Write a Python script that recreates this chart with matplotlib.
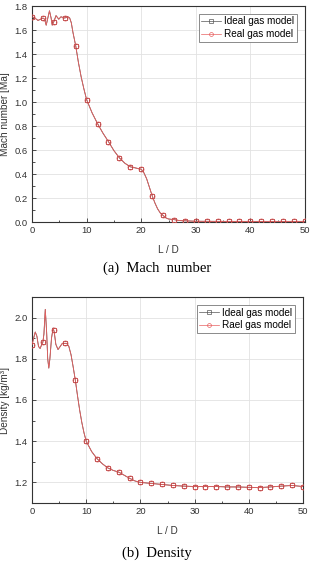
import matplotlib
matplotlib.use("Agg")
import matplotlib.pyplot as plt
from matplotlib.ticker import MultipleLocator, FormatStrFormatter

plt.rcParams['font.family'] = ['Liberation Sans', 'DejaVu Sans']

# ---- data ----
ld_markers = list(range(0, 51, 2))

mach_ideal = [1.71, 1.70, 1.67, 1.70, 1.47, 1.02, 0.82, 0.67, 0.535, 0.46, 0.44,
              0.22, 0.055, 0.02, 0.01, 0.006, 0.005, 0.005, 0.005, 0.005, 0.005,
              0.005, 0.005, 0.005, 0.005, 0.005]
mach_real = mach_ideal

# dense curve
mach_line_x = [0, 0.5, 1.1, 1.6, 2.0, 2.3, 2.6, 2.9, 3.2, 3.5, 3.7, 4.0, 4.4, 4.9,
               5.3, 6.0, 6.6, 6.9, 7.2, 7.5, 8.0, 8.5, 9.0, 9.5, 10, 11, 12, 13,
               14, 15, 16, 17, 18, 19, 20, 20.5, 21, 21.5, 22, 22.5, 23, 23.5,
               24, 24.5, 25, 26, 27, 28, 30, 35, 40, 45, 50]
mach_line_y = [1.71, 1.70, 1.68, 1.69, 1.70, 1.69, 1.64, 1.70, 1.76, 1.70, 1.64,
               1.67, 1.72, 1.69, 1.71, 1.70, 1.71, 1.70, 1.66, 1.58, 1.47, 1.33,
               1.21, 1.11, 1.02, 0.91, 0.82, 0.74, 0.67, 0.595, 0.535, 0.49, 0.46,
               0.45, 0.44, 0.41, 0.36, 0.29, 0.22, 0.16, 0.11, 0.075, 0.055,
               0.035, 0.025, 0.02, 0.012, 0.01, 0.006, 0.005, 0.005, 0.005, 0.005]

dens_ideal = [1.868, 1.88, 1.94, 1.875, 1.695, 1.40, 1.315, 1.27, 1.25, 1.22, 1.20,
              1.195, 1.19, 1.185, 1.182, 1.18, 1.18, 1.18, 1.178, 1.178, 1.176,
              1.175, 1.178, 1.182, 1.185, 1.18]
dens_real = dens_ideal

dens_line_x = [0, 0.3, 0.6, 0.9, 1.2, 1.5, 1.8, 2.0, 2.2, 2.45, 2.7, 2.9, 3.1,
               3.3, 3.6, 3.9, 4.1, 4.4, 4.8, 5.2, 5.6, 6.0, 6.4, 6.8, 7.2, 7.6,
               8.0, 8.4, 8.8, 9.2, 9.6, 10, 11, 12, 13, 14, 15, 16, 17, 18, 19,
               20, 22, 24, 26, 28, 30, 32, 34, 36, 38, 40, 42, 44, 46, 48, 50]
dens_line_y = [1.868, 1.90, 1.93, 1.91, 1.86, 1.85, 1.87, 1.88, 1.92, 2.04, 1.93,
               1.80, 1.755, 1.80, 1.90, 1.95, 1.93, 1.87, 1.845, 1.86, 1.875,
               1.875, 1.875, 1.86, 1.82, 1.76, 1.695, 1.62, 1.55, 1.49, 1.44,
               1.40, 1.35, 1.315, 1.29, 1.27, 1.258, 1.25, 1.235, 1.22, 1.207,
               1.20, 1.195, 1.19, 1.185, 1.182, 1.18, 1.18, 1.18, 1.178, 1.178,
               1.176, 1.175, 1.178, 1.182, 1.185, 1.18]

legend_a = ["Ideal gas model", "Real gas model"]
legend_b = ["Ideal gas model", "Rael gas model"]

W, H = 331, 564
fig = plt.figure(figsize=(W / 100, H / 100), dpi=100)

def box(l, t, r, b):
    return [l / W, 1 - b / H, (r - l) / W, (b - t) / H]

ax1 = fig.add_axes(box(32, 6, 305, 222))
ax2 = fig.add_axes(box(32, 297, 303, 503))

gray = "#555555"
red = "#e86060"

def draw(ax, lx, ly, yi, yr, labels):
    ax.plot(lx, ly, color=gray, lw=0.6, zorder=2)
    ax.plot(lx, ly, color=red, lw=0.6, zorder=3)
    ax.plot(ld_markers, yi, ls='none', marker='s', ms=3.4, mfc='none',
            mec='#7a2a2a', mew=0.6, zorder=4)
    ax.plot(ld_markers, yr, ls='none', marker='o', ms=3.6, mfc='none',
            mec=red, mew=0.6, zorder=5)
    h1, = ax.plot([], [], color=gray, lw=0.5, marker='s', ms=2.6, mfc='none',
                  mec=gray, mew=0.5)
    h2, = ax.plot([], [], color=red, lw=0.5, marker='o', ms=2.8, mfc='none',
                  mec=red, mew=0.5)
    leg = ax.legend([h1, h2], labels, loc='upper right', fontsize=7.2,
                    fancybox=False, framealpha=1, edgecolor='#777777',
                    handlelength=2.0, borderpad=0.25, labelspacing=0.25,
                    handletextpad=0.3, borderaxespad=0.8)
    leg.get_frame().set_linewidth(0.6)
    ax.set_xlim(0, 50)
    ax.xaxis.set_major_locator(MultipleLocator(10))
    ax.xaxis.set_minor_locator(MultipleLocator(5))
    ax.grid(True, which='major', color='#e2e2e2', lw=0.6)
    ax.set_axisbelow(True)
    ax.tick_params(which='both', direction='in', labelsize=6.8, width=0.6,
                   top=False, right=False, pad=3, colors='#333333')
    ax.tick_params(which='major', length=3)
    ax.tick_params(which='minor', length=1.8)
    for s in ax.spines.values():
        s.set_linewidth(0.8)
        s.set_color('#333333')
    ax.set_xlabel("L / D", fontsize=7.2, labelpad=7, color='#333333')

draw(ax1, mach_line_x, mach_line_y, mach_ideal, mach_real, legend_a)
ax1.set_ylim(0, 1.8)
ax1.yaxis.set_major_locator(MultipleLocator(0.2))
ax1.yaxis.set_minor_locator(MultipleLocator(0.1))
ax1.yaxis.set_major_formatter(FormatStrFormatter('%.1f'))
ax1.set_ylabel("Mach number [Ma]", fontsize=7.2, labelpad=3, color='#333333')

draw(ax2, dens_line_x, dens_line_y, dens_ideal, dens_real, legend_b)
ax2.set_ylim(1.1, 2.1)
ax2.yaxis.set_major_locator(MultipleLocator(0.2))
ax2.yaxis.set_minor_locator(MultipleLocator(0.1))
ax2.yaxis.set_major_formatter(FormatStrFormatter('%.1f'))
ax2.set_ylabel("Density [kg/m³]", fontsize=7.2, labelpad=3, color='#333333')

fig.text(157 / W, 1 - 268 / H, "(a)  Mach  number", ha='center', va='center',
         fontsize=10.5, family='Liberation Serif')
fig.text(157 / W, 1 - 553 / H, "(b)  Density", ha='center', va='center',
         fontsize=10.5, family='Liberation Serif')

fig.savefig("out.png", dpi=100)
